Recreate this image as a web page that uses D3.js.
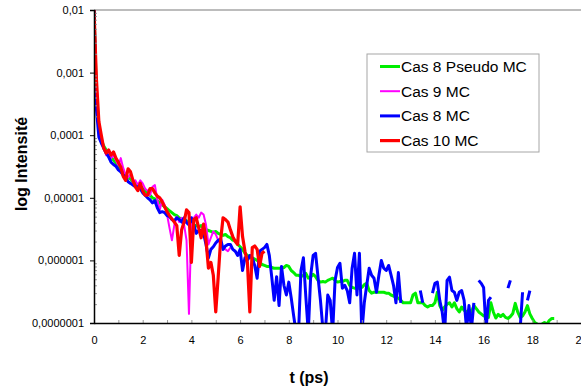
<!DOCTYPE html>
<html>
<head>
<meta charset="utf-8">
<script src="https://cdn.jsdelivr.net/npm/d3@7"></script>
<style>
  body { margin: 0; background: #fff; }
  text { font-family: Arial, "Liberation Sans", sans-serif; }
</style>
</head>
<body>
<svg id="chart" width="581" height="389"></svg>
<script>
// sampling step of every series (ps)
const DT = 0.1;

const seriesNames = ['Cas 8 Pseudo MC', 'Cas 9 MC', 'Cas 8 MC', 'Cas 10 MC'];
const seriesColors = ['#00ee00', '#ff00ff', '#0000ff', '#ff0000'];

// Cas 8 Pseudo MC, t = 0 .. 18.9
const cas8Pseudo = [
  1e-2, 4.5e-4, 1.2e-4, 8.3e-5, 6.7e-5, 5.8e-5, 5.0e-5, 4.5e-5, 4.0e-5, 3.6e-5,
  3.2e-5, 2.9e-5, 2.6e-5, 2.3e-5, 2.1e-5, 2.0e-5, 1.8e-5, 1.7e-5, 1.6e-5, 1.5e-5,
  1.4e-5, 1.3e-5, 1.2e-5, 1.1e-5, 1.0e-5, 9.6e-6, 9.0e-6, 8.3e-6, 7.7e-6, 7.2e-6,
  6.7e-6, 6.2e-6, 5.8e-6, 5.4e-6, 5.2e-6, 4.8e-6, 4.6e-6, 4.5e-6, 4.3e-6, 4.1e-6,
  3.8e-6, 3.7e-6, 3.6e-6, 3.4e-6, 3.6e-6, 3.3e-6, 3.1e-6, 3.0e-6, 2.9e-6, 2.8e-6,
  2.9e-6, 2.7e-6, 2.6e-6, 2.5e-6, 2.6e-6, 2.4e-6, 2.3e-6, 2.1e-6, 2.1e-6, 1.8e-6,
  1.65e-6, 1.5e-6, 1.3e-6, 1.2e-6, 1.1e-6, 1.1e-6, 1.05e-6, 1.0e-6, 9.3e-7, 8.6e-7,
  8.3e-7, 8.0e-7, 8.0e-7, 7.7e-7, 7.5e-7, 7.5e-7, 7.5e-7, 7.5e-7, 7.7e-7, 8.3e-7,
  8.0e-7, 6.9e-7, 6.4e-7, 5.8e-7, 5.8e-7, 5.5e-7, 5.8e-7, 6.2e-7, 5.2e-7, 5.4e-7,
  6.0e-7, 5.5e-7, 4.8e-7, 4.5e-7, 4.6e-7, 4.5e-7, 4.8e-7, 5.0e-7, 5.2e-7, 4.8e-7,
  4.5e-7, 4.6e-7, 4.6e-7, 4.8e-7, 4.8e-7, 4.0e-7, 3.7e-7, 3.6e-7, 3.6e-7, 3.6e-7,
  3.7e-7, 4.1e-7, 4.3e-7, 3.3e-7, 3.0e-7, 3.1e-7, 3.1e-7, 3.1e-7, 3.1e-7, 3.1e-7,
  3.0e-7, 3.0e-7, 2.8e-7, 2.7e-7, 2.6e-7, 2.5e-7, 2.3e-7, 2.1e-7, 2.1e-7, 2.1e-7,
  2.1e-7, 2.8e-7, 3.0e-7, 2.1e-7, 2.1e-7, 2.1e-7, 1.9e-7, 1.8e-7, 1.9e-7, 1.9e-7,
  2.1e-7, 3.1e-7, 1.9e-7, 1.6e-7, 1.8e-7, 2.0e-7, 2.1e-7, 1.8e-7, 2.1e-7, 1.7e-7,
  1.5e-7, 1.8e-7, 1.6e-7, 1.5e-7, 1.6e-7, 1.5e-7, 1.9e-7, 1.7e-7, 1.5e-7, 1.4e-7,
  1.3e-7, 1.27e-7, 1.23e-7, 2.1e-7, 1.5e-7, 1.2e-7, 1.37e-7, 1.27e-7, 1.37e-7, 1.23e-7,
  1.18e-7, 1.27e-7, 1.42e-7, 2.06e-7, 1.5e-7, 1.23e-7, 1.3e-7, 1.5e-7, 1.9e-7, 1.4e-7,
  1.18e-7, 1.02e-7, 0.96e-7, 0.93e-7, 0.96e-7, 1.02e-7, 0.96e-7, 1.1e-7, 1.18e-7, 1.18e-7
];

// Cas 9 MC, t = 0 .. 5.6
const cas9 = [
  1e-2, 7.2e-4, 1.65e-4, 9.0e-5, 6.4e-5, 4.8e-5, 5.4e-5, 4.3e-5, 4.8e-5, 4.0e-5,
  3.3e-5, 4.3e-5, 3.0e-5, 2.3e-5, 2.1e-5, 2.4e-5, 1.8e-5, 1.9e-5, 1.6e-5, 1.9e-5,
  1.7e-5, 1.4e-5, 1.3e-5, 1.1e-5, 1.5e-5, 1.6e-5, 9.3e-6, 6.4e-6, 9.3e-6, 7.7e-6,
  5.4e-6, 3.3e-6, 2.1e-6, 3.7e-6, 5.0e-6, 4.1e-6, 4.8e-6, 3.7e-6, 2.1e-6, 1.4e-7,
  3.7e-6, 4.8e-6, 5.4e-6, 4.8e-6, 5.8e-6, 5.4e-6, 3.7e-6, 1.8e-6, 2.3e-6, 2.9e-6,
  2.6e-6, 2.1e-6, 1.8e-6, 1.6e-6, 1.5e-6, 1.4e-6, 1.6e-6
];

// Cas 8 MC, t = 0 .. 17.9 (null = no point)
const cas8 = [
  1e-2, 2.6e-4, 9.3e-5, 7.5e-5, 6.2e-5, 5.2e-5, 4.5e-5, 3.7e-5, 3.4e-5, 3.2e-5,
  2.8e-5, 2.6e-5, 2.3e-5, 2.1e-5, 1.8e-5, 1.7e-5, 1.6e-5, 1.5e-5, 1.5e-5, 1.4e-5,
  1.2e-5, 1.1e-5, 1.0e-5, 9.3e-6, 8.3e-6, 9.0e-6, 6.9e-6, 5.8e-6, 6.0e-6, 5.8e-6,
  5.2e-6, 5.0e-6, 4.5e-6, 4.3e-6, 4.8e-6, 4.5e-6, 4.1e-6, 4.8e-6, 4.0e-6, 3.7e-6,
  4.8e-6, 3.7e-6, 2.7e-6, 3.0e-6, 3.0e-6, 2.7e-6, 1.8e-6, 1.1e-6, 1.5e-6, 1.65e-6,
  1.9e-6, 2.1e-6, 2.2e-6, 1.5e-6, 1.7e-6, 1.8e-6, 1.8e-6, 1.5e-6, 1.4e-6, 1.2e-6,
  1.5e-6, 6.9e-7, 1.1e-6, 1.0e-6, 1.2e-6, 1.1e-6, 8.3e-7, 5.2e-7, 1.4e-6, 1.5e-6,
  1.6e-6, 1.8e-6, 1.2e-6, 5.4e-7, 2.3e-7, 5.5e-7, 1.9e-7, 8.0e-7, 4.0e-7, 2.8e-7,
  4.5e-7, 2.5e-7, 1.3e-7, 7e-8, 7e-8, 6.9e-7, 1.1e-6, 2.6e-7, 7e-8, 5.8e-7,
  1.2e-6, 1.3e-6, 5.4e-7, 2.3e-7, 8e-8, 7e-8, 2.8e-7, 2.3e-7, 7e-8, 4.8e-7,
  7.7e-7, 9.0e-7, 3.6e-7, 4.0e-7, 3.3e-7, 2.1e-7, 7.5e-7, 1.3e-6, 2.8e-7, 1.3e-6,
  7e-8, 2.1e-7, 4.0e-7, 7.5e-7, 5.8e-7, 5.2e-7, 3.1e-7, 5.8e-7, 1.0e-6, 7.5e-7,
  6.9e-7, 8.3e-7, 5.8e-7, 4.0e-7, 2.1e-7, 6.4e-7, 2.1e-7, null, null, null,
  null, null, null, null, 3.3e-7, 2.1e-7, null, null, null, 3.0e-7,
  4.3e-7, 4.5e-7, 2.3e-7, 1.5e-7, 7e-8, 4.8e-7, 5.4e-7, 3.3e-7, 3.1e-7, 2.3e-7,
  3.1e-7, 3.3e-7, 2.3e-7, 8e-8, 1.9e-7, 8e-8, 2.1e-7, null, 4.8e-7, 4.3e-7,
  3.7e-7, 8e-8, 2.3e-7, 2.6e-7, null, null, null, null, null, null,
  3.6e-7, 4.8e-7, null, null, null, 8e-8, 3.1e-7, null, 2.3e-7, 3.3e-7
];

// Cas 10 MC, t = 0 .. 7.0
const cas10 = [
  1e-2, 7.7e-4, 1.65e-4, 1.0e-4, 6.2e-5, 5.2e-5, 5.8e-5, 4.8e-5, 5.4e-5, 4.3e-5,
  3.7e-5, 3.1e-5, 2.2e-5, 1.9e-5, 2.9e-5, 2.6e-5, 1.9e-5, 1.5e-5, 1.3e-5, 1.7e-5,
  1.3e-5, 1.1e-5, 1.1e-5, 1.4e-5, 1.4e-5, 1.2e-5, 1.06e-5, 1.0e-5, 8.6e-6, 7.2e-6,
  6.0e-6, 5.2e-6, 4.6e-6, 4.1e-6, 3.6e-6, 1.2e-6, 3.1e-6, 4.1e-6, 6.4e-6, 5.8e-6,
  9.3e-7, 4.5e-6, 4.8e-6, 3.3e-6, 2.3e-6, 3.8e-6, 2.1e-6, 7.5e-7, 9.3e-7, 5.8e-7,
  1.5e-7, 5.4e-7, 2.1e-6, 4.8e-6, 4.5e-6, 4.1e-6, 3.1e-6, 2.4e-6, 2.0e-6, 1.8e-6,
  7.2e-6, 2.4e-6, 1.4e-6, 9.3e-7, 1.5e-7, 1.6e-6, 1.7e-6, 1.5e-6, 8.0e-7, 1.3e-6,
  1.4e-6
];

const xTicks = [0, 2, 4, 6, 8, 10, 12, 14, 16, 18, 20];
const yTicks = [1e-7, 1e-6, 1e-5, 1e-4, 1e-3, 1e-2];
const yTickLabels = ['0,0000001', '0,000001', '0,00001', '0,0001', '0,001', '0,01'];

const allSeries = [cas8Pseudo, cas9, cas8, cas10];
const lineWidths = [3, 2, 3, 3.2];

const svg = d3.select('#chart');

// scales
const x = d3.scaleLinear().domain([0, 20]).range([94, 581]);
const y = d3.scaleLog().domain([1e-7, 1e-2]).range([323, 10]);

// clip to the plot area
svg.append('clipPath')
  .attr('id', 'plot-clip')
  .append('rect')
  .attr('x', x(0))
  .attr('y', y(1e-2))
  .attr('width', x(20) - x(0))
  .attr('height', y(1e-7) - y(1e-2));

// top border of the plot area
svg.append('line')
  .attr('x1', x(0)).attr('x2', x(20))
  .attr('y1', y(1e-2)).attr('y2', y(1e-2))
  .attr('stroke', '#a6a6a6')
  .attr('stroke-width', 1.5);

// series lines
const line = d3.line()
  .defined(d => d.v != null)
  .x(d => x(d.t))
  .y(d => y(d.v));

const plot = svg.append('g').attr('clip-path', 'url(#plot-clip)');
allSeries.forEach((values, i) => {
  const pts = values.map((v, k) => ({ t: k * DT, v: v }));
  plot.append('path')
    .datum(pts)
    .attr('fill', 'none')
    .attr('stroke', seriesColors[i])
    .attr('stroke-width', lineWidths[i])
    .attr('stroke-linejoin', 'round')
    .attr('d', line);
});

// x axis: small inside ticks every 1 ps, labels every 2 ps
const xAxis = svg.append('g').attr('transform', `translate(0,${y(1e-7)})`);
xAxis.append('g')
  .call(d3.axisTop(x).ticks(20).tickSize(3).tickFormat(''))
  .call(g => g.select('.domain').remove())
  .call(g => g.selectAll('line').attr('stroke', '#999'));
xAxis.append('g')
  .call(d3.axisBottom(x).tickValues(xTicks).tickSize(0).tickPadding(13).tickFormat(d3.format('d')))
  .call(g => g.select('.domain').attr('stroke', '#000').attr('stroke-width', 1.5))
  .call(g => g.selectAll('text').attr('font-size', 11).attr('fill', '#000')
    .style('font-family', 'Arial, "Liberation Sans", sans-serif'));

// y axis: minor log ticks inside, majors outside
const minorTicks = y.ticks().filter(v => !yTicks.includes(v));
const yAxis = svg.append('g').attr('transform', `translate(${x(0)},0)`);
yAxis.append('g')
  .call(d3.axisRight(y).tickValues(minorTicks).tickSize(3).tickFormat(''))
  .call(g => g.select('.domain').remove())
  .call(g => g.selectAll('line').attr('stroke', '#999'));
yAxis.append('g')
  .call(d3.axisLeft(y).tickValues(yTicks).tickSize(4).tickPadding(6)
    .tickFormat((d, i) => yTickLabels[i]))
  .call(g => g.select('.domain').attr('stroke', '#000').attr('stroke-width', 1.5))
  .call(g => g.selectAll('text').attr('font-size', 11).attr('fill', '#000')
    .style('font-family', 'Arial, "Liberation Sans", sans-serif'));

// axis titles
svg.append('text')
  .attr('x', 309)
  .attr('y', 383)
  .attr('text-anchor', 'middle')
  .attr('font-size', 16)
  .attr('font-weight', 'bold')
  .text('t (ps)');

svg.append('text')
  .attr('transform', 'translate(27,164) rotate(-90)')
  .attr('text-anchor', 'middle')
  .attr('font-size', 16)
  .attr('font-weight', 'bold')
  .text('log Intensité');

// legend
const legend = svg.append('g').attr('transform', 'translate(367,54)');
legend.append('rect')
  .attr('width', 172)
  .attr('height', 98)
  .attr('fill', '#fff')
  .attr('stroke', '#a6a6a6')
  .attr('stroke-width', 1);

const items = legend.selectAll('.legend-item')
  .data(seriesNames)
  .enter()
  .append('g')
  .attr('class', 'legend-item')
  .attr('transform', (d, i) => `translate(0,${12.5 + i * 24.7})`);
items.append('line')
  .attr('x1', 13).attr('x2', 33)
  .attr('stroke', (d, i) => seriesColors[i])
  .attr('stroke-width', (d, i) => lineWidths[i]);
items.append('text')
  .attr('x', 34)
  .attr('dy', '0.36em')
  .attr('font-size', 15.5)
  .text(d => d);
</script>
</body>
</html>
